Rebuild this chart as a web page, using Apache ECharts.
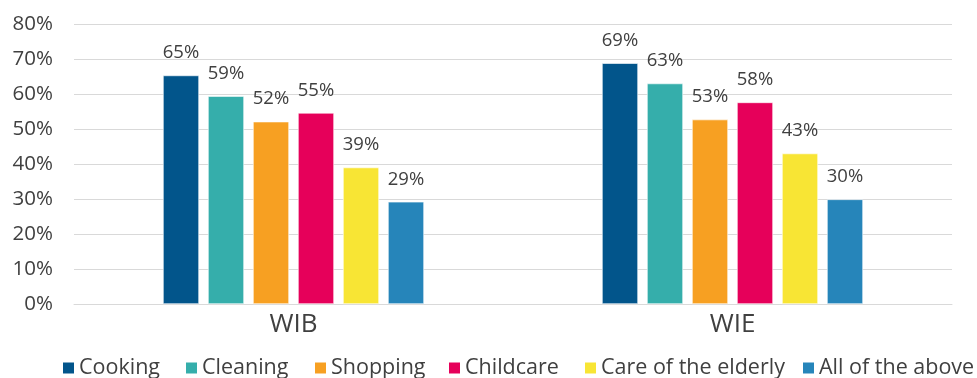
<!DOCTYPE html>
<html>
<head>
<meta charset="utf-8">
<script src="https://cdn.jsdelivr.net/npm/echarts@6/dist/echarts.min.js"></script>
<style>
html,body{margin:0;padding:0;background:#fff;}
#chart{width:977px;height:378px;}
</style>
</head>
<body>
<div id="chart"></div>
<script>
const categories = ['WIB', 'WIE'];
const seriesNames = ['Cooking', 'Cleaning', 'Shopping', 'Childcare', 'Care of the elderly', 'All of the above'];
const cooking = [65.3, 68.8];
const cleaning = [59.4, 63.0];
const shopping = [52.1, 52.7];
const childcare = [54.6, 57.6];
const elderly = [39.0, 43.0];
const allAbove = [29.2, 29.9];
const yTicks = [0, 10, 20, 30, 40, 50, 60, 70, 80];
const colors = ['#02558B', '#35AEAB', '#F7A022', '#E6005A', '#F8E534', '#2685BA'];

const values = [cooking, cleaning, shopping, childcare, elderly, allAbove];
const legendLefts = [61, 184, 313, 447, 583, 801];
const font = '"Open Sans", sans-serif';
const chart = echarts.init(document.getElementById('chart'));
chart.setOption({
  animation: false,
  color: colors,
  grid: { left: 74, right: 25, top: 24, bottom: 74, containLabel: false },
  legend: seriesNames.map((name, i) => ({
    data: [name],
    left: legendLefts[i], top: 357, padding: 0,
    itemWidth: 13, itemHeight: 13,
    icon: 'rect',
    textStyle: { fontFamily: font, fontSize: 21.5, color: '#404040', padding: [0, 0, 0, -1] }
  })),
  xAxis: {
    type: 'category', data: categories,
    axisLine: { lineStyle: { color: '#d9d9d9', width: 1 } },
    axisTick: { show: false },
    axisLabel: { fontFamily: font, fontSize: 26, color: '#404040', margin: 8 }
  },
  yAxis: {
    type: 'value', min: yTicks[0], max: yTicks[yTicks.length - 1], interval: 10,
    axisLine: { show: false }, axisTick: { show: false },
    splitLine: { lineStyle: { color: '#d9d9d9', width: 1 } },
    axisLabel: { fontFamily: font, fontSize: 20.5, color: '#404040', margin: 21, formatter: v => v + '%' }
  },
  series: seriesNames.map((name, i) => ({
    name, type: 'bar', data: values[i],
    barWidth: 36, barGap: '25%',
    itemStyle: { borderColor: '#ffffff', borderWidth: 0.6 },
    label: {
      show: true, position: 'top', distance: 13,
      fontFamily: font, fontSize: 18.5, color: '#404040',
      formatter: p => Math.round(p.value) + '%'
    }
  }))
});
</script>
</body>
</html>
